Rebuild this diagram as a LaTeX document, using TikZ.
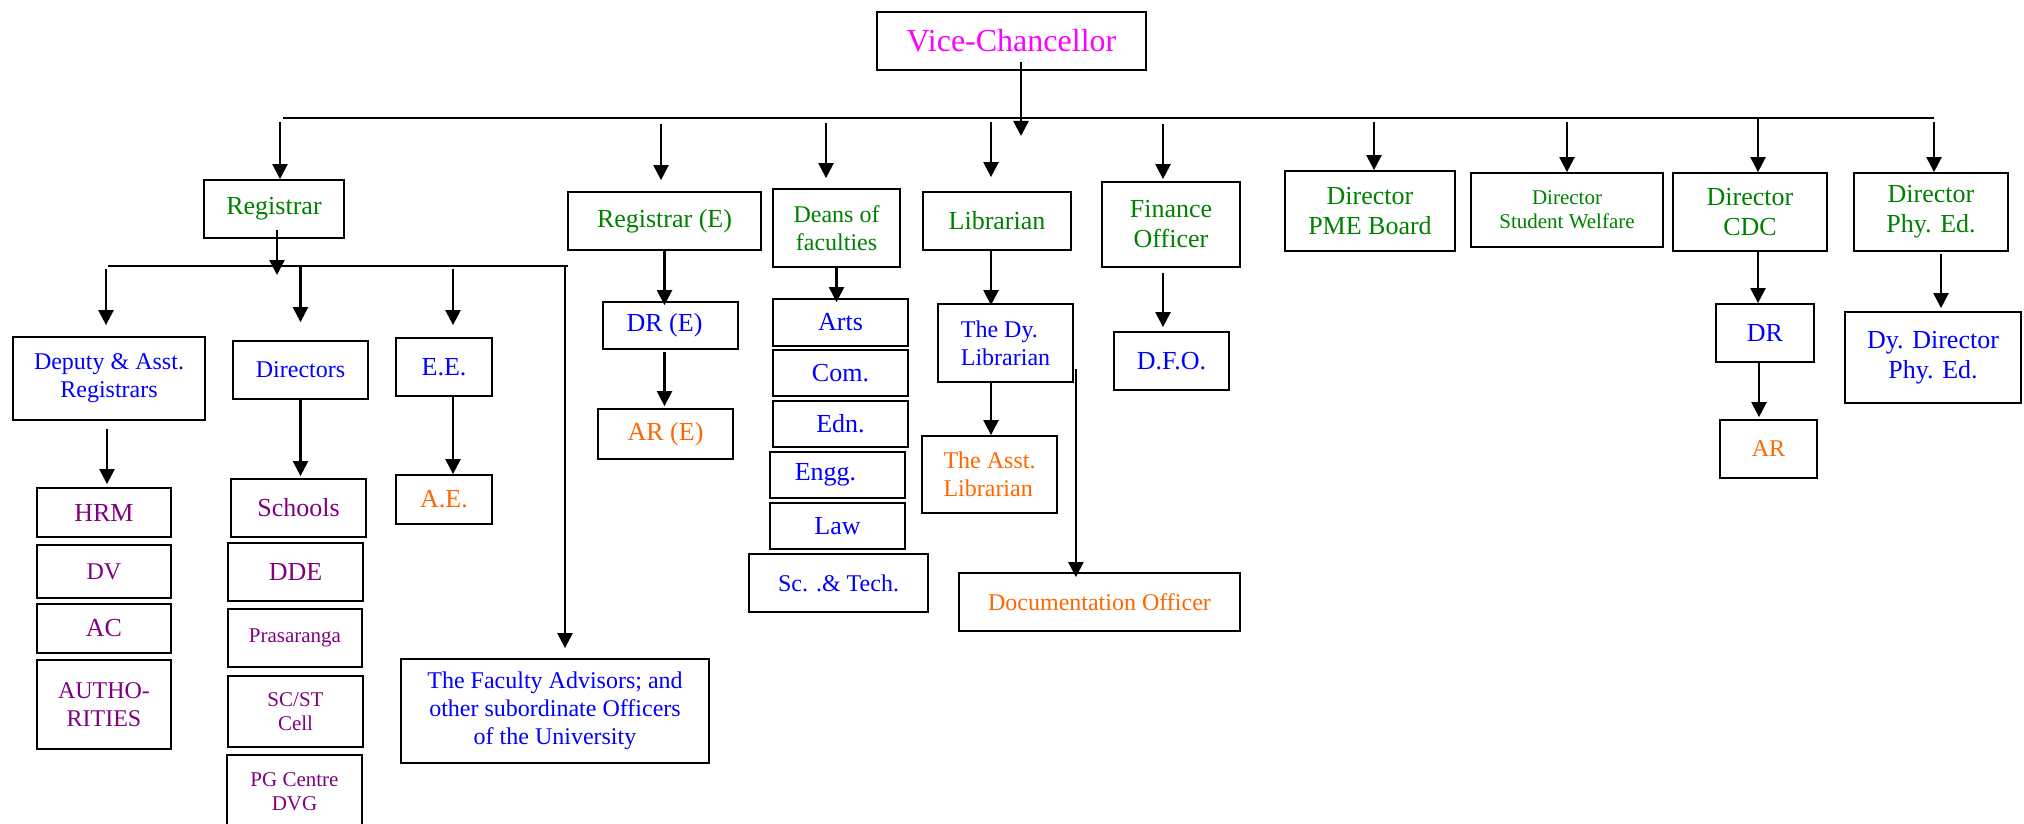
\documentclass[tikz,border=0pt]{standalone}
\usepackage{fontspec}
\setmainfont{Liberation Serif}
\usetikzlibrary{arrows.meta}

\definecolor{vcpink}{RGB}{255,0,255}
\definecolor{offgreen}{RGB}{0,128,0}
\definecolor{unitblue}{RGB}{0,0,255}
\definecolor{subpurple}{RGB}{128,0,128}
\definecolor{asstorange}{RGB}{255,102,0}

\tikzset{
  office/.style={draw, line width=0.9pt, inner sep=1pt, align=center, font=\fontsize{13}{15}\selectfont},
  midtext/.style={font=\fontsize{12}{14}\selectfont},
  smalltext/.style={font=\fontsize{10.5}{12}\selectfont},
  link/.style={line width=1.2pt, -{Triangle[length=7.5pt,width=7.5pt]}},
  bus/.style={line width=0.9pt}
}

\begin{document}
\begin{tikzpicture}[x=0.5pt,y=-0.5pt]
    \useasboundingbox (0,0) rectangle (2024,824);

    % head and first row
    \node[office, minimum width=134.5pt, minimum height=29pt, text=vcpink, font=\fontsize{16}{18}\selectfont] (vc) at (1011.5,41) {Vice-Chancellor};
    \node[office, minimum width=70pt, minimum height=29pt, text=offgreen] (reg) at (274,209) {Registrar};
    \node[office, minimum width=96.5pt, minimum height=29pt, text=offgreen] (rege) at (664.5,221) {Registrar (E)};
    \node[office, midtext, minimum width=63.5pt, minimum height=39pt, text=offgreen] (deans) at (836.5,228) {Deans of\\faculties};
    \node[office, minimum width=74pt, minimum height=29pt, text=offgreen] (lib) at (997,221) {Librarian};
    \node[office, minimum width=69pt, minimum height=42.5pt, text=offgreen] (fin) at (1171,224.5) {Finance\\Officer};
    \node[office, minimum width=85pt, minimum height=40pt, text=offgreen] (pme) at (1370,211) {Director\\PME Board};
    \node[office, smalltext, minimum width=96pt, minimum height=37pt, text=offgreen] (sw) at (1567,210) {Director\\Student Welfare};
    \node[office, minimum width=77pt, minimum height=39pt, text=offgreen] (cdc) at (1750,212) {Director\\CDC};
    \node[office, minimum width=77pt, minimum height=39pt, text=offgreen] (phy) at (1931,212) {Director\\Phy. Ed.};

    % under the registrar
    \node[office, midtext, minimum width=96pt, minimum height=41.5pt, text=unitblue] (dep) at (109,378.5) {Deputy \& Asst.\\Registrars};
    \node[office, midtext, minimum width=67.5pt, minimum height=29pt, text=unitblue] (dirs) at (300.5,370) {Directors};
    \node[office, minimum width=48pt, minimum height=29pt, text=unitblue] (ee) at (444,367) {E.E.};
    \node[office, midtext, minimum width=154pt, minimum height=52pt, text=unitblue] (fac) at (555,711) {The Faculty Advisors; and\\other subordinate Officers\\of the University};
    \node[office, minimum width=67pt, minimum height=24.5pt, text=subpurple] (hrm) at (104,512.5) {HRM};
    \node[office, midtext, minimum width=67pt, minimum height=26.5pt, text=subpurple] (dv) at (104,571.5) {DV};
    \node[office, minimum width=67pt, minimum height=24.5pt, text=subpurple] (ac) at (104,628.5) {AC};
    \node[office, midtext, minimum width=67pt, minimum height=44.5pt, text=subpurple] (auth) at (104,704.5) {AUTHO-\\RITIES};
    \node[office, minimum width=67.5pt, minimum height=29pt, text=subpurple] (sch) at (298.5,508) {Schools};
    \node[office, minimum width=67.5pt, minimum height=29pt, text=subpurple] (dde) at (295.5,572) {DDE};
    \node[office, smalltext, minimum width=67pt, minimum height=29pt, text=subpurple] (pras) at (295,638) {Prasaranga};
    \node[office, smalltext, minimum width=67.5pt, minimum height=35.5pt, text=subpurple] (scst) at (295.5,711.5) {SC/ST\\Cell};
    \node[office, smalltext, minimum width=67.5pt, minimum height=36.5pt, text=subpurple] (pg) at (294.5,791.5) {PG Centre\\DVG};
    \node[office, minimum width=48pt, minimum height=24.5pt, text=asstorange] (ae) at (444,499.5) {A.E.};

    % registrar (E), deans, librarian, finance
    \node[office, minimum width=67.5pt, minimum height=23.5pt, text=unitblue] (dre) at (670.5,325.5) {DR (E)\hspace*{6pt}};
    \node[office, minimum width=67.5pt, minimum height=25pt, text=asstorange] (are) at (665.5,434) {AR (E)};
    \node[office, minimum width=67.5pt, minimum height=23.5pt, text=unitblue] (arts) at (840.5,322.5) {Arts};
    \node[office, minimum width=67.5pt, minimum height=23pt, text=unitblue] (com) at (840.5,373) {Com.};
    \node[office, minimum width=67.5pt, minimum height=23pt, text=unitblue] (edn) at (840.5,424) {Edn.};
    \node[office, minimum width=67.5pt, minimum height=23pt, text=unitblue] (engg) at (837.5,475) {Engg.\hspace*{12pt}};
    \node[office, minimum width=67.5pt, minimum height=23pt, text=unitblue] (law) at (837.5,526) {Law};
    \node[office, midtext, minimum width=89.5pt, minimum height=29pt, text=unitblue] (sct) at (838.5,583) {Sc. .\& Tech.};
    \node[office, midtext, align=left, minimum width=67.5pt, minimum height=39pt, text=unitblue] (dylib) at (1005.5,343) {The Dy.\\Librarian};
    \node[office, midtext, align=left, minimum width=67.5pt, minimum height=38.5pt, text=asstorange] (asst) at (989.5,474.5) {The Asst.\\Librarian};
    \node[office, midtext, minimum width=140.5pt, minimum height=29pt, text=asstorange] (doc) at (1099.5,602) {Documentation Officer};
    \node[office, minimum width=57.5pt, minimum height=29pt, text=unitblue] (dfo) at (1171.5,361) {D.F.O.};

    % directors on the right
    \node[office, minimum width=49pt, minimum height=29pt, text=unitblue] (dr) at (1765,333) {DR};
    \node[office, midtext, minimum width=48.5pt, minimum height=29pt, text=asstorange] (ar) at (1768.5,449) {AR};
    \node[office, minimum width=88pt, minimum height=45.5pt, text=unitblue] (dydir) at (1933,357.5) {Dy. Director\\Phy. Ed.};

    % top bus
    \coordinate (busL) at (283,118);
    \coordinate (busR) at (1934,118);
    \coordinate (vcdrop) at (1021,136);
    \draw[bus] (busL) -- (busR);
    \draw[link] ([xshift=4.75pt,yshift=4.5pt]vc.south) -- (vcdrop);
    \draw[link, shorten <=2pt] ([xshift=3pt]reg.north |- busL) -- ([xshift=3pt]reg.north);
    \draw[link, shorten <=3pt, shorten >=5.5pt] ([xshift=-1.75pt]rege.north |- busL) -- ([xshift=-1.75pt]rege.north);
    \draw[link, shorten <=2.5pt, shorten >=5pt] ([xshift=-5.25pt]deans.north |- busL) -- ([xshift=-5.25pt]deans.north);
    \draw[link, shorten <=2pt, shorten >=7pt] ([xshift=-3pt]lib.north |- busL) -- ([xshift=-3pt]lib.north);
    \draw[link, shorten <=3pt, shorten >=1pt] ([xshift=-4pt]fin.north |- busL) -- ([xshift=-4pt]fin.north);
    \draw[link, shorten <=2pt] ([xshift=2pt]pme.north |- busL) -- ([xshift=2pt]pme.north);
    \draw[link, shorten <=2pt] (sw.north |- busL) -- (sw.north);
    \draw[link] ([xshift=4pt]cdc.north |- busL) -- ([xshift=4pt]cdc.north);
    \draw[link, shorten <=2pt] ([xshift=1.5pt]phy.north |- busL) -- ([xshift=1.5pt]phy.north);

    % registrar bus
    \coordinate (subL) at (108,266);
    \coordinate (subR) at (568,266);
    \draw[bus] (subL) -- (subR);
    \draw[link, shorten >=-4.5pt] ([xshift=1.5pt,yshift=4.5pt]reg.south) -- ([xshift=1.5pt]reg.south |- subL);
    \draw[link, shorten <=1.5pt, shorten >=5.5pt] ([xshift=-1.5pt]dep.north |- subL) -- ([xshift=-1.5pt]dep.north);
    \draw[link, shorten >=9pt] (dirs.north |- subL) -- (dirs.north);
    \draw[link, shorten <=1.5pt, shorten >=6pt] ([xshift=4.5pt]ee.north |- subL) -- ([xshift=4.5pt]ee.north);
    \draw[link, shorten >=5pt] ([xshift=5pt]fac.north |- subL) -- ([xshift=5pt]fac.north);

    % lower links
    \draw[link, shorten <=4pt, shorten >=1.5pt] ([xshift=-1pt]dep.south) -- ([xshift=-1pt]dep.south |- hrm.north);
    \draw[link, shorten >=1pt] (dirs.south) -- (dirs.south |- sch.north);
    \draw[link] ([xshift=4.5pt]ee.south) -- ([xshift=4.5pt]ee.south |- ae.north);
    \draw[link, shorten >=-2pt] (rege.south) -- (rege.south |- dre.north);
    \draw[link, shorten <=1pt, shorten >=1pt] ([xshift=-3pt]dre.south) -- ([xshift=-3pt]dre.south |- are.north);
    \draw[link, shorten >=-2pt] (deans.south) -- (deans.south |- arts.north);
    \draw[link, shorten >=-1pt] ([xshift=-3pt]lib.south) -- ([xshift=-3pt]lib.south |- dylib.north);
    \draw[link] ([xshift=-7.25pt]dylib.south) -- ([xshift=-7.25pt]dylib.south |- asst.north);
    \draw[link, shorten >=-2.5pt] ([shift={(1pt,7pt)}]dylib.south east) -- ([xshift=1pt]dylib.south east |- doc.north);
    \draw[link, shorten <=2.5pt, shorten >=2pt] ([xshift=-4pt]fin.south) -- ([xshift=-4pt]fin.south |- dfo.north);
    \draw[link] ([xshift=4pt]cdc.south) -- ([xshift=4pt]cdc.south |- dr.north);
    \draw[link, shorten >=1pt] ([xshift=-3pt]dr.south) -- ([xshift=-3pt]dr.south |- ar.north);
    \draw[link, shorten <=1pt, shorten >=1.5pt] ([xshift=5pt]phy.south) -- ([xshift=5pt]phy.south |- dydir.north);
\end{tikzpicture}
\end{document}
